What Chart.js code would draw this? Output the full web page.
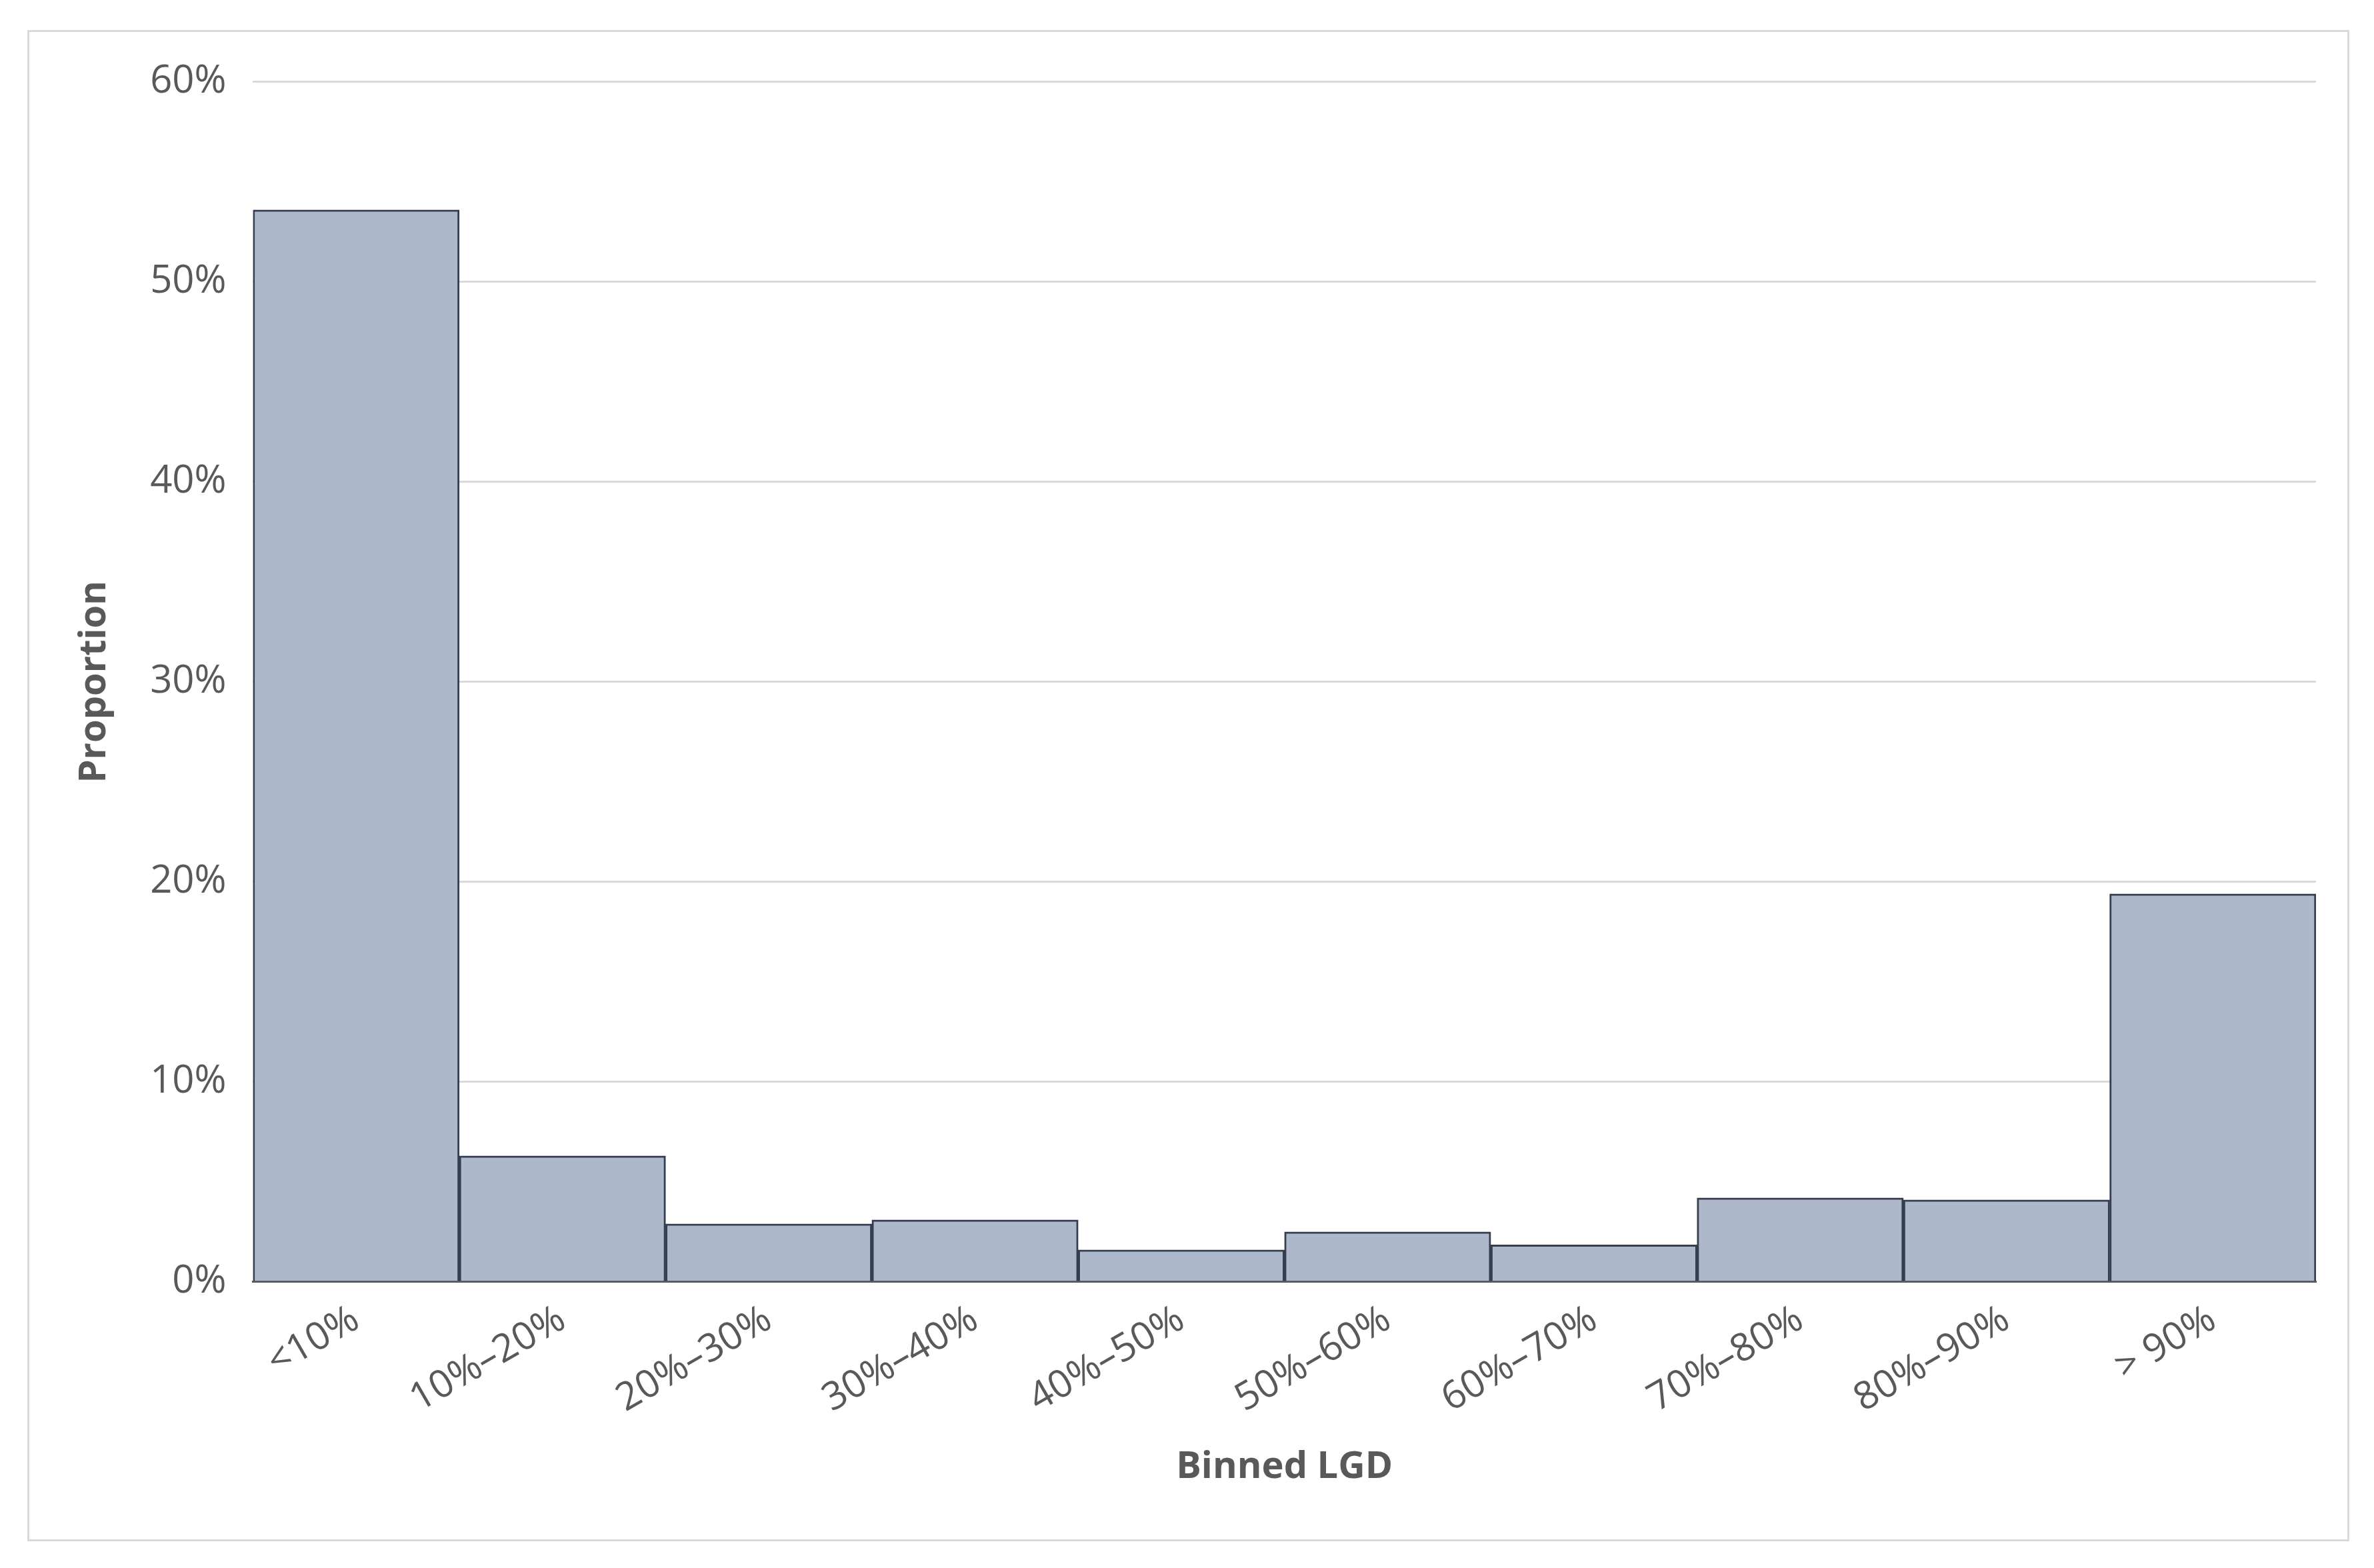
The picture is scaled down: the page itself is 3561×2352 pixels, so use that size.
<!DOCTYPE html>
<html>
<head>
<meta charset="utf-8">
<script src="https://cdn.jsdelivr.net/npm/chart.js@4"></script>
<style>
  body{margin:0;background:#fff;}
  #frame{position:absolute;left:41px;top:45px;width:3483px;height:2267px;border:3px solid #d9d9d9;box-sizing:border-box;}
  #wrap{position:absolute;left:0;top:0;width:100%;height:100%;}
</style>
</head>
<body>
<div id="frame"><div id="wrap"><canvas id="chart"></canvas></div></div>
<script>
// Bins and proportions (%)
const bins = ["<10%","10%\u201320%","20%\u201330%","30%\u201340%","40%\u201350%","50%\u201360%","60%\u201370%","70%\u201380%","80%\u201390%","> 90%"];
const proportion = [53.6, 6.3, 2.9, 3.1, 1.6, 2.5, 1.85, 4.2, 4.1, 19.4];
const yTicks = [0,10,20,30,40,50,60];

Chart.defaults.font.family = "'Open Sans', 'Liberation Sans', sans-serif";
Chart.defaults.color = "#595959";

const ctx = document.getElementById("chart").getContext("2d");
new Chart(ctx,{
  type:"bar",
  data:{
    labels:bins,
    datasets:[{
      data:proportion,
      backgroundColor:"#adb9ca",
      borderColor:"#333f50",
      borderWidth:3,
      borderSkipped:"bottom",
      categoryPercentage:1,
      barPercentage:1
    }]
  },
  options:{
    responsive:true,
    maintainAspectRatio:false,
    animation:false,
    layout:{padding:{left:60,right:47,top:28,bottom:70}},
    plugins:{legend:{display:false},tooltip:{enabled:false}},
    scales:{
      x:{
        grid:{display:false},
        border:{color:"#595959",width:3},
        ticks:{font:{size:58},color:"#595959",maxRotation:30,minRotation:30,padding:14},
        title:{display:true,text:"Binned LGD",font:{size:56,weight:"bold"},color:"#595959",padding:{top:20}}
      },
      y:{
        min:0,max:60,
        afterBuildTicks:ax=>{ax.ticks=yTicks.map(v=>({value:v}));},
        grid:{color:"#d9d9d9",lineWidth:3,drawTicks:false},
        border:{display:false},
        ticks:{font:{size:58},color:"#595959",padding:40,callback:v=>v+"%"},
        title:{display:true,text:"Proportion",font:{size:56,weight:"bold"},color:"#595959",padding:{bottom:10}}
      }
    }
  }
});
</script>
</body>
</html>
